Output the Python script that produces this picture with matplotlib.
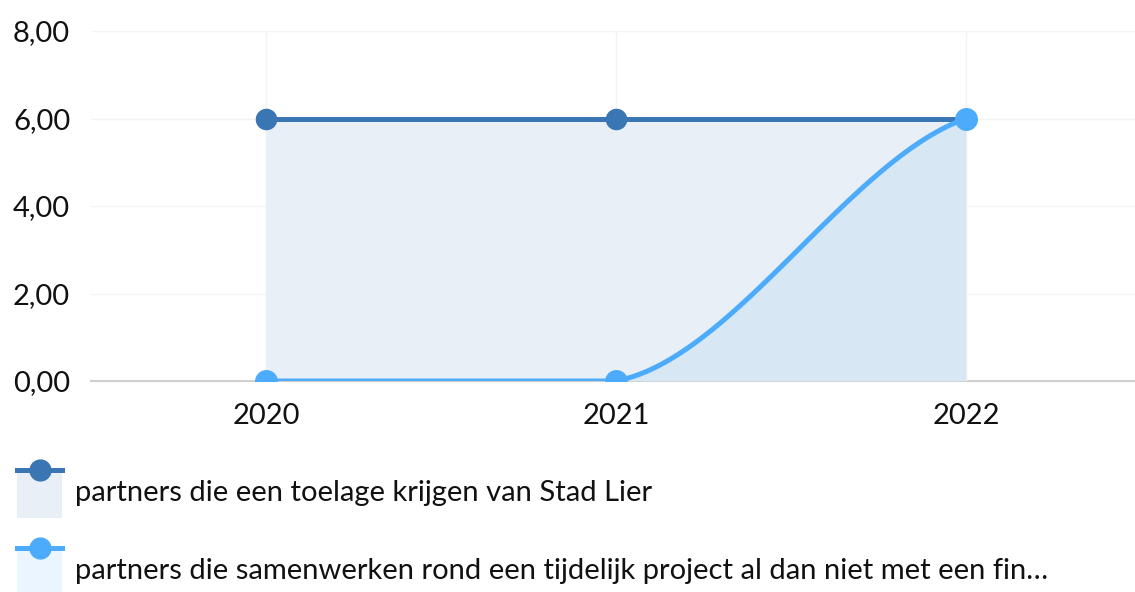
import numpy as np
import matplotlib.pyplot as plt
from matplotlib.patches import Rectangle
from matplotlib.lines import Line2D

plt.rcParams['font.family'] = ['Lato', 'DejaVu Sans']

years = ["2020", "2021", "2022"]
toelage = [6, 6, 6]
samenwerken = [0, 0, 6]
y_ticks = [0, 2, 4, 6, 8]
labels = ["partners die een toelage krijgen van Stad Lier",
          "partners die samenwerken rond een tijdelijk project al dan niet met een fin\u2026"]

dark = "#3a76b3"
light = "#4dabfc"


def smooth(vals, tangents):
    # cubic hermite curve through the category points (spline look)
    xs, ys = [], []
    t = np.linspace(0, 1, 60)
    h00 = 2 * t**3 - 3 * t**2 + 1
    h10 = t**3 - 2 * t**2 + t
    h01 = -2 * t**3 + 3 * t**2
    h11 = t**3 - t**2
    for i in range(len(vals) - 1):
        m0, m1 = tangents[i]
        xs.append(i + t)
        ys.append(h00 * vals[i] + h10 * m0 + h01 * vals[i + 1] + h11 * m1)
    return np.concatenate(xs), np.concatenate(ys)


W, H = 1135, 592
fig = plt.figure(figsize=(W / 100, H / 100), dpi=100)
ax = fig.add_axes([91 / W, 1 - 381 / H, 1050 / W, 350 / H])

x = np.arange(len(years))
ax.fill_between(x, toelage, color="#e8eff7", zorder=1, lw=0)
ax.plot(x, toelage, color=dark, lw=3.6, marker="o", ms=14.5, zorder=3)

sx, sy = smooth(samenwerken, [(0, 0), (1.5, 2.8)])
sy = np.clip(sy, 0, None)
ax.fill_between(sx, sy, color="#d4e6f4", alpha=0.85, zorder=2, lw=0)
ax.plot(sx, sy, color=light, lw=3.6, zorder=4)
ax.plot(x, samenwerken, ls="none", color=light, marker="o", ms=15.5, zorder=5)

ax.set_xlim(-0.5, 2.5)
ax.set_ylim(0, 8)
ax.set_xticks(x)
ax.set_xticklabels(years)
ax.set_yticks(y_ticks)
ax.set_yticklabels([f"{v:.2f}".replace(".", ",") for v in y_ticks])
ax.tick_params(length=0, labelsize=21, colors="#111111")
ax.tick_params(axis="y", pad=15)
ax.tick_params(axis="x", pad=16)
ax.grid(True, color="#f3f3f3", lw=1)
ax.set_axisbelow(True)
for s in ["top", "right", "left"]:
    ax.spines[s].set_visible(False)
ax.spines["bottom"].set_color("#cccccc")
ax.spines["bottom"].set_linewidth(1.5)
ax.spines["bottom"].set_zorder(0)

# legend drawn in pixel coordinates
lg = fig.add_axes([0, 0, 1, 1])
lg.set_xlim(0, W)
lg.set_ylim(H, 0)
lg.axis("off")
rows = [(470, dark, "#e8eff7"), (548, light, "#eaf5ff")]
for (ytop, col, fill), lab in zip(rows, labels):
    lg.add_patch(Rectangle((17, ytop), 45, 48, color=fill, lw=0))
    lg.add_line(Line2D([17, 62], [ytop, ytop], color=col, lw=3.6))
    lg.plot([40], [ytop], marker="o", ms=15, color=col)
    lg.text(75, ytop + 23, lab, fontsize=21, va="center", ha="left", color="#111111")

fig.savefig("out.png", dpi=100)
